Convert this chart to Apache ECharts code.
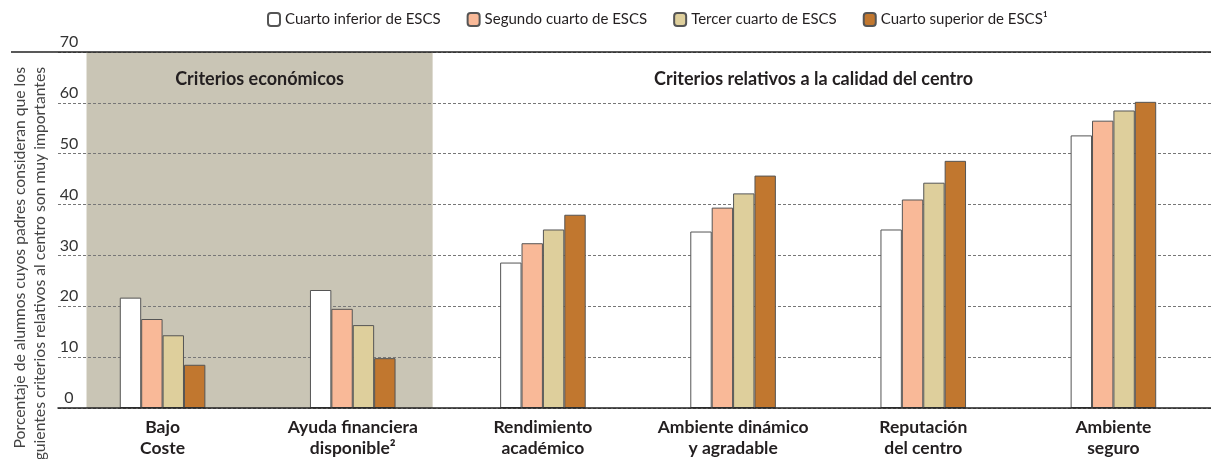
<!DOCTYPE html>
<html><head><meta charset="utf-8">
<script src="https://cdn.jsdelivr.net/npm/echarts@6/dist/echarts.min.js"></script>
<style>html,body{margin:0;padding:0;background:#fff}#c{width:1211px;height:459px}</style>
</head><body><div id="c"></div>
<script>
const categories = ['Bajo\nCoste', 'Ayuda financiera\ndisponible²', 'Rendimiento\nacadémico', 'Ambiente dinámico\ny agradable', 'Reputación\ndel centro', 'Ambiente\nseguro'];
const seriesNames = ['Cuarto inferior de ESCS', 'Segundo cuarto de ESCS', 'Tercer cuarto de ESCS', 'Cuarto superior de ESCS¹'];
const cuartoInferior = [21.7, 23.2, 28.6, 34.7, 35.1, 53.6];
const segundoCuarto  = [17.5, 19.5, 32.4, 39.4, 41.0, 56.5];
const tercerCuarto   = [14.3, 16.3, 35.1, 42.2, 44.3, 58.5];
const cuartoSuperior = [8.5, 9.8, 38.0, 45.7, 48.6, 60.2];
const yMin = 0, yMax = 70, yStep = 10;
const groupTitles = ['Criterios económicos', 'Criterios relativos a la calidad del centro'];
const shadedSpan = [0.1, 1.92];   // in category units (0..6)
const yTitle = 'Porcentaje de alumnos cuyos padres consideran que los\nsiguientes criterios relativos al centro son muy importantes';

const colors = ['#FFFFFF', '#F9B998', '#DECF9C', '#C1772F'];
const values = [cuartoInferior, segundoCuarto, tercerCuarto, cuartoSuperior];
const FONT = 'Lato';

const chart = echarts.init(document.getElementById('c'), null, {renderer: 'canvas'});
const gridTop = 52, gridBottom = 51;
const option = {
  animation: false,
  textStyle: {fontFamily: FONT},
  legend: {
    top: 12, left: 267, padding: 0, itemGap: 26, itemWidth: 12, itemHeight: 13,
    textStyle: {fontSize: 15, color: '#231F20', fontFamily: FONT},
    data: seriesNames
  },
  grid: [
    {left: 58, right: 0, top: gridTop, bottom: gridBottom},
    {left: 67.5, right: 2.5, top: gridTop, bottom: gridBottom}
  ],
  xAxis: [
    {gridIndex: 0, type: 'value', min: 0, max: 1, axisLabel: {show: false}, axisTick: {show: false}, splitLine: {show: false},
     axisLine: {show: true, lineStyle: {color: '#222', width: 1.5}}, z: 5},
    {gridIndex: 1, type: 'category', data: categories, axisLine: {show: false}, axisTick: {show: false},
     axisLabel: {margin: 9, fontSize: 17.5, fontWeight: 'bold', color: '#231F20', lineHeight: 21, fontFamily: FONT, interval: 0}},
    {gridIndex: 1, type: 'value', min: 0, max: categories.length, show: false}
  ],
  yAxis: [
    {gridIndex: 0, type: 'value', min: yMin, max: yMax, interval: yStep, z: 1,
     axisLine: {show: false}, axisTick: {show: false},
     axisLabel: {inside: true, margin: 11, align: 'center', verticalAlign: 'bottom', padding: [0, 0, 2, 0], fontSize: 16, color: '#333', fontFamily: FONT},
     splitLine: {show: true, lineStyle: {color: '#777', type: [3, 2], width: 1}}},
    {gridIndex: 1, type: 'value', min: yMin, max: yMax, show: false}
  ],
  series: [
    {
      type: 'line', xAxisIndex: 2, yAxisIndex: 1, data: [], z: 0, silent: true,
      markArea: {
        silent: true, z: 0,
        label: {position: 'insideTop', distance: 18, fontSize: 18, fontWeight: 'bold', color: '#231F20', fontFamily: FONT},
        data: [
          [{xAxis: shadedSpan[0], yAxis: yMin, name: groupTitles[0], itemStyle: {color: '#C9C5B5'}}, {xAxis: shadedSpan[1], yAxis: yMax}],
          [{xAxis: shadedSpan[1], yAxis: yMin, name: groupTitles[1], itemStyle: {color: 'rgba(0,0,0,0)'}, label: {offset: [-7, 0]}}, {xAxis: categories.length, yAxis: yMax}]
        ]
      }
    }
  ].concat(values.map((v, i) => ({
    name: seriesNames[i], type: 'bar', xAxisIndex: 1, yAxisIndex: 1, data: v, z: 2,
    barGap: '0%', barCategoryGap: '55%',
    itemStyle: {color: colors[i], borderColor: '#555', borderWidth: 1}
  })))
};
chart.setOption(option);
const yTopPx = chart.convertToPixel({yAxisIndex: 0}, yMax);
chart.setOption({
  graphic: [
    {type: 'line', z: 10, shape: {x1: 11, y1: yTopPx, x2: 1211, y2: yTopPx}, style: {stroke: '#222', lineWidth: 1.5}},
    {type: 'text', x: 30, y: 67, rotation: Math.PI / 2, z: 10,
     style: {text: yTitle, fontSize: 15.7, lineHeight: 20, fill: '#444', align: 'right', verticalAlign: 'middle', fontFamily: FONT}}
  ]
});
</script></body></html>
